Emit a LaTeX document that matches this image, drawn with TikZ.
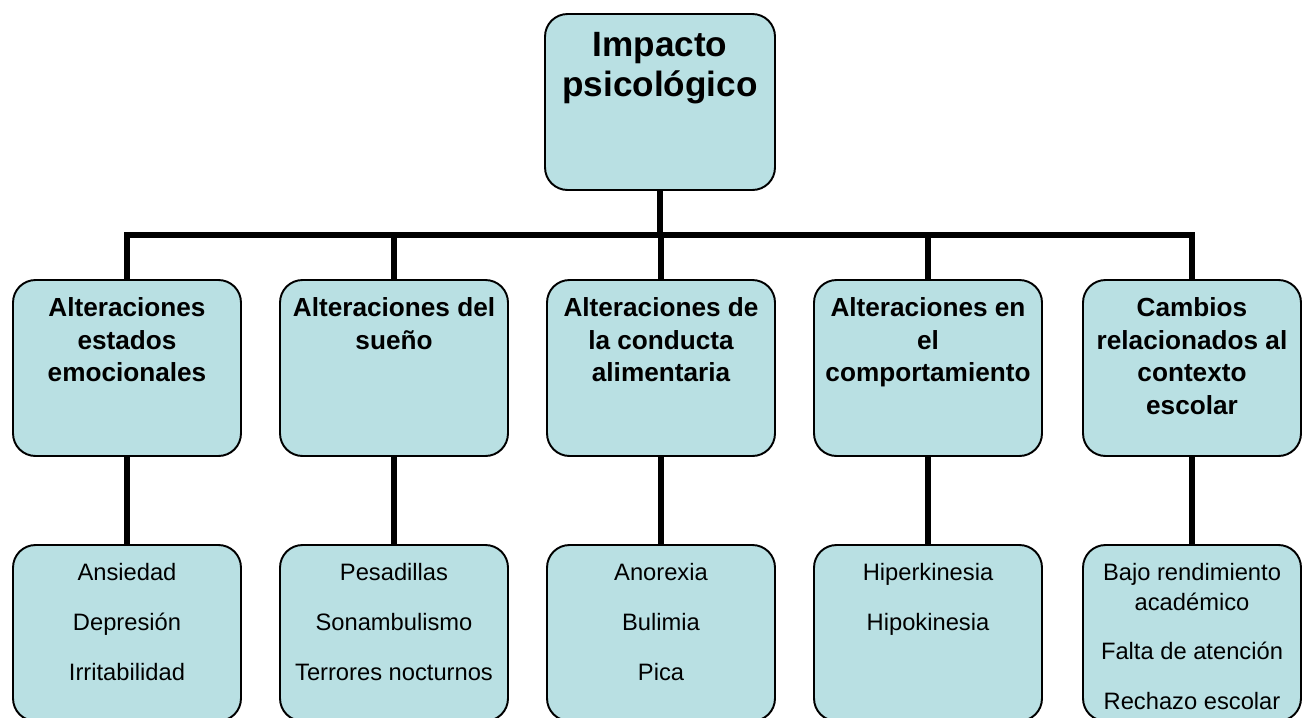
\documentclass[tikz,border=0pt]{standalone}
\usepackage{fontspec}
\setmainfont{Liberation Sans}
\definecolor{cajafondo}{RGB}{185,224,227}
\newcommand{\cajatexto}[2]{\parbox[t][2.8cm][t]{#1}{\centering #2}}
\begin{document}
\begin{tikzpicture}[x=0.02cm,y=-0.02cm,
  caja/.style={draw,line width=1.1pt,fill=cajafondo,rounded corners=0.45cm,
    inner xsep=0.08cm,inner ysep=0.36cm},
  raiz/.style={caja,font=\fontsize{20}{23}\selectfont\bfseries},
  rama/.style={caja,font=\fontsize{14.9}{18.5}\selectfont\bfseries},
  hoja/.style={caja,font=\fontsize{13.5}{17}\selectfont},
  linea/.style={line width=3pt}]
\clip (0,0) rectangle (1302,717);
\def\wa{4.4cm}
\def\wb{4.2cm}
\coordinate (bus) at (660,235);
\node[raiz] (ip) at (660,102) {\cajatexto{4.44cm}{Impacto\\psicológico}};
\node[rama] (a1) at (127,368) {\cajatexto{\wa}{Alteraciones\\estados\\emocionales}};
\node[rama] (a2) at (394,368) {\cajatexto{\wa}{Alteraciones del\\sueño}};
\node[rama] (a3) at (661,368) {\cajatexto{\wa}{Alteraciones de\\la conducta\\alimentaria}};
\node[rama] (a4) at (928,368) {\cajatexto{\wa}{Alteraciones en\\el\\comportamiento}};
\node[rama] (a5) at (1192,368) {\cajatexto{\wb}{Cambios\\relacionados al\\contexto\\escolar}};
\node[hoja] (c1) at (127,633) {\cajatexto{\wa}{Ansiedad\\[11.4pt]Depresión\\[11.4pt]Irritabilidad}};
\node[hoja] (c2) at (394,633) {\cajatexto{\wa}{Pesadillas\\[11.4pt]Sonambulismo\\[11.4pt]Terrores nocturnos}};
\node[hoja] (c3) at (661,633) {\cajatexto{\wa}{Anorexia\\[11.4pt]Bulimia\\[11.4pt]Pica}};
\node[hoja] (c4) at (928,633) {\cajatexto{\wa}{Hiperkinesia\\[11.4pt]Hipokinesia}};
\node[hoja] (c5) at (1192,633) {\cajatexto{\wb}{Bajo rendimiento\\académico\\[11.4pt]Falta de atención\\[11.4pt]Rechazo escolar}};
\draw[linea] (ip.south) -- (bus);
\draw[linea] (bus) -| (a1.north);
\draw[linea] (bus) -| (a2.north);
\draw[linea] (bus) -| (a3.north);
\draw[linea] (bus) -| (a4.north);
\draw[linea] (bus) -| (a5.north);
\draw[linea] (a1.south) -- (c1.north);
\draw[linea] (a2.south) -- (c2.north);
\draw[linea] (a3.south) -- (c3.north);
\draw[linea] (a4.south) -- (c4.north);
\draw[linea] (a5.south) -- (c5.north);
\end{tikzpicture}
\end{document}
